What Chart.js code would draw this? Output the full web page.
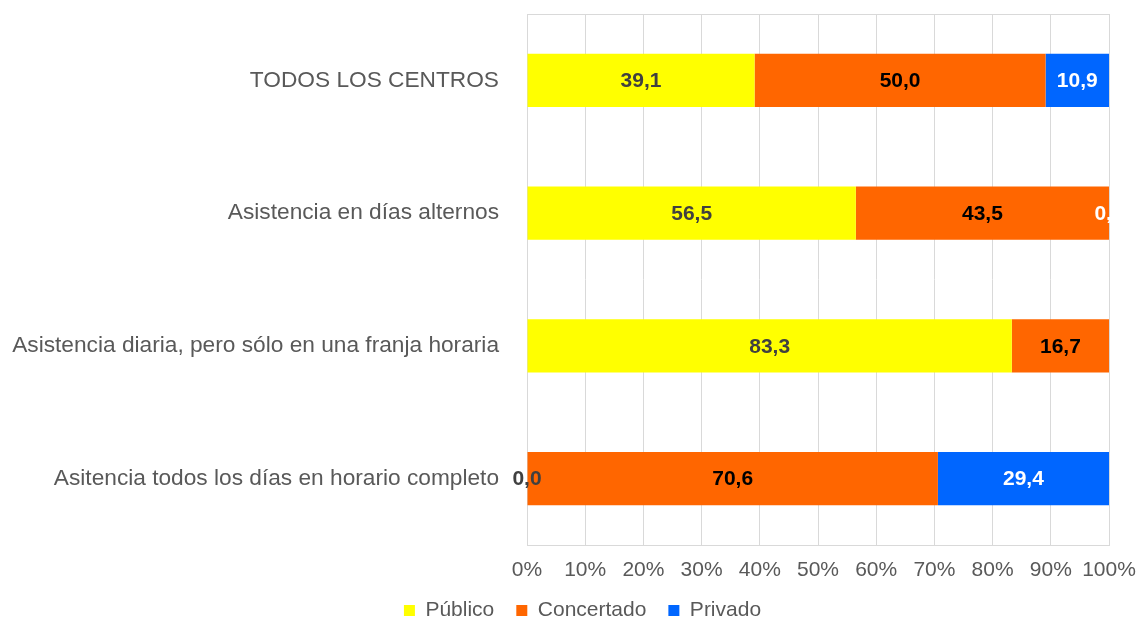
<!DOCTYPE html>
<html>
<head>
<meta charset="utf-8">
<script src="https://cdn.jsdelivr.net/npm/chart.js@4/dist/chart.umd.min.js"></script>
<style>
  html, body { margin: 0; padding: 0; background: #fff; }
  #wrap { width: 1137px; height: 618px; position: relative; }
</style>
</head>
<body>
<div id="wrap"><canvas id="chart"></canvas></div>
<script>
// categorias (de arriba a abajo) y porcentajes por titularidad
const categories = [
  'TODOS LOS CENTROS',
  'Asistencia en días alternos',
  'Asistencia diaria, pero sólo en una franja horaria',
  'Asitencia todos los días en horario completo'
];
const publico = [39.1, 56.5, 83.3, 0.0];
const concertado = [50.0, 43.5, 16.7, 70.6];
const privado = [10.9, 0.0, null, 29.4];
const xTicks = [0, 10, 20, 30, 40, 50, 60, 70, 80, 90, 100];

const FONT = '"Liberation Sans", Arial, sans-serif';
const labelColors = ['#404040', '#000000', '#ffffff'];

// etiquetas de valor dentro de cada barra
const valueLabels = {
  id: 'valueLabels',
  afterDatasetsDraw(chart) {
    const ctx = chart.ctx;
    ctx.save();
    ctx.font = 'bold 21px ' + FONT;
    ctx.textAlign = 'center';
    ctx.textBaseline = 'middle';
    chart.data.datasets.forEach((ds, i) => {
      chart.getDatasetMeta(i).data.forEach((bar, j) => {
        const v = ds.data[j];
        if (v === null || v === undefined) return;
        ctx.fillStyle = labelColors[i];
        ctx.fillText(v.toFixed(1).replace('.', ','), (bar.x + bar.base) / 2, bar.y + 1);
      });
    });
    ctx.restore();
  }
};

// marco gris del area de trazado
const frame = {
  id: 'frame',
  beforeDatasetsDraw(chart) {
    const a = chart.chartArea, ctx = chart.ctx;
    ctx.save();
    ctx.strokeStyle = '#d9d9d9';
    ctx.lineWidth = 1;
    ctx.strokeRect(a.left + 0.5, a.top + 0.5, a.right - a.left, a.bottom - a.top);
    ctx.restore();
  }
};

// centrar la leyenda un poco mas a la derecha, como en el original
const legendShift = {
  id: 'legendShift',
  afterLayout(chart) {
    if (chart.legend) {
      chart.legend.left += 11;
      chart.legend.right += 11;
    }
  }
};

const ctx = document.getElementById('chart').getContext('2d');
new Chart(ctx, {
  type: 'bar',
  data: {
    labels: categories,
    datasets: [
      { label: 'Público', data: publico, backgroundColor: '#ffff00' },
      { label: 'Concertado', data: concertado, backgroundColor: '#ff6600' },
      { label: 'Privado', data: privado, backgroundColor: '#0066ff' }
    ]
  },
  options: {
    indexAxis: 'y',
    responsive: true,
    maintainAspectRatio: false,
    animation: false,
    categoryPercentage: 1,
    barPercentage: 0.4,
    layout: { padding: { top: 14, left: 6, right: 0, bottom: 0 } },
    scales: {
      x: {
        stacked: true,
        min: 0,
        max: 100,
        afterBuildTicks: s => { s.ticks = xTicks.map(v => ({ value: v })); },
        afterFit: s => { s.height = 33; s.paddingLeft = 0; s.paddingRight = 28; },
        grid: { color: '#d9d9d9', drawTicks: false },
        border: { display: false },
        ticks: {
          padding: 17,
          color: '#595959',
          font: { family: FONT, size: 21, lineHeight: 0.762 },
          callback: v => v + '%'
        }
      },
      y: {
        stacked: true,
        grid: { display: false },
        border: { display: false },
        afterFit: s => { s.width = 521; s.paddingTop = 0; s.paddingBottom = 0; },
        ticks: {
          padding: 20,
          color: '#595959',
          font: { family: FONT, size: 22.7 }
        }
      }
    },
    plugins: {
      legend: {
        position: 'bottom',
        maxHeight: 40,
        labels: {
          boxWidth: 11,
          boxHeight: 11,
          padding: 22,
          color: '#595959',
          font: { family: FONT, size: 21 }
        }
      },
      tooltip: { enabled: false }
    }
  },
  plugins: [frame, valueLabels, legendShift]
});
</script>
</body>
</html>
